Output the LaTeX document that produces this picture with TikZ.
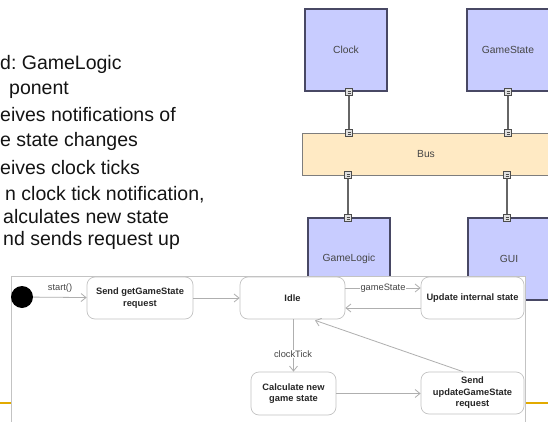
\documentclass[tikz,border=0pt]{standalone}
\usepackage{fontspec}
\setmainfont{Liberation Sans}
\usetikzlibrary{arrows.meta,calc}
\frenchspacing
\definecolor{compfill}{RGB}{200,204,255}
\definecolor{compdraw}{RGB}{72,72,100}
\definecolor{busfill}{RGB}{255,234,196}
\definecolor{busdraw}{RGB}{125,125,125}
\definecolor{gold}{RGB}{226,170,0}
\definecolor{stdraw}{RGB}{195,195,195}
\definecolor{arrcol}{RGB}{175,175,175}
\definecolor{labcol}{RGB}{70,70,70}
\begin{document}
\begin{tikzpicture}[x=1pt,y=-1pt,
  bullet/.style={anchor=base west, inner sep=0pt, font=\fontsize{19.5}{23}\selectfont, text=black!92},
  comp/.style={draw=compdraw, line width=2pt, fill=compfill, minimum width=82.5pt, minimum height=82.5pt, inner sep=0pt, font=\fontsize{10.3}{12}\selectfont, text=labcol},
  busbox/.style={draw=busdraw, line width=0.8pt, fill=busfill, minimum width=248pt, minimum height=42pt, inner sep=0pt, font=\fontsize{10.3}{12}\selectfont, text=labcol},
  port/.style={draw=black!70, fill=black!12, line width=0.6pt, minimum size=6.5pt, inner sep=0pt},
  wire/.style={draw=black!60, line width=1.1pt},
  frame/.style={draw=stdraw, line width=0.6pt, fill=white},
  stbox/.style={draw=stdraw, line width=0.7pt, fill=white, rounded corners=8pt, inner sep=0pt, align=center, font=\fontsize{9.3}{11.5}\selectfont\bfseries, text=black!85},
  trans/.style={draw=arrcol, line width=0.8pt, -{Straight Barb[length=5pt,width=8pt]}},
  tlabel/.style={inner sep=1pt, fill=white, font=\fontsize{9.3}{11}\selectfont, text=labcol}
]
\useasboundingbox (0,0) rectangle (548,422);

% left bullet text
\node[bullet] (l1) at (0,70) {d: GameLogic};
\node[bullet] (l2) at (9,95) {ponent};
\node[bullet] (l3) at (0,122) {eives notifications of};
\node[bullet] (l4) at (0,147) {e state changes};
\node[bullet] (l5) at (0,175) {eives clock ticks};
\node[bullet] (l6) at (5,200) {n clock tick notification,};
\node[bullet] (l7) at (3,223) {alculates new state};
\node[bullet] (l8) at (3,245) {nd sends request up};

% footer line
\draw[gold, line width=1.2pt] (0,403) -- (548,403);

% component diagram
\node[comp] (clock) at (346,50) {Clock};
\node[comp] (gstate) at (508,50) {GameState};
\node[busbox] (bus) at (426,154) {Bus};
\node[comp] (glogic) at (349,259) {GameLogic};
\node[comp] (gui) at (509,259) {GUI};

\node[port] (pc) at (349,92) {};
\node[port] (pbc) at (349,133) {};
\node[port] (pg) at (508,92) {};
\node[port] (pbg) at (508,133) {};
\node[port] (pbl) at (348,175) {};
\node[port] (pl) at (348,218) {};
\node[port] (pbu) at (507,175) {};
\node[port] (pu) at (507,218) {};
\foreach \p in {pc,pbc,pg,pbg,pbl,pl,pbu,pu}{
  \draw[black!70, line width=0.4pt] ($(\p.center)+(-1.5,-1)$) -- ($(\p.center)+(1.5,-1)$);
  \draw[black!70, line width=0.4pt] ($(\p.center)+(-1.5,1)$) -- ($(\p.center)+(1.5,1)$);
}
\draw[wire] (pc) -- (pbc);
\draw[wire] (pg) -- (pbg);
\draw[wire] (pbl) -- (pl);
\draw[wire] (pbu) -- (pu);

% state diagram
\path[frame] (11,276.5) rectangle (525,430);
\node[circle, fill=black, minimum size=22pt, inner sep=0pt] (init) at (22,297) {};
\node[stbox, minimum width=106pt, minimum height=42pt] (send1) at (140,298) {Send getGameState\\request};
\node[stbox, minimum width=105pt, minimum height=42pt] (idle) at (292.5,298) {Idle};
\node[stbox, minimum width=103pt, minimum height=42pt] (update) at (472.5,298) {Update internal state};
\node[stbox, minimum width=85pt, minimum height=43pt] (calc) at (293.5,393.5) {Calculate new\\game state};
\node[stbox, minimum width=103pt, minimum height=42pt] (send2) at (472.5,393) {Send\\updateGameState\\request};

\draw[trans] (init) -- (send1);
\node[tlabel, anchor=south, fill=none] (lstart) at (60,294) {start()};
\draw[trans] (send1) -- (idle);
\draw[trans] ($(idle.east)+(0,-10)$) -- node[tlabel] (lgs) {gameState} ($(update.west)+(0,-10)$);
\draw[trans] ($(update.west)+(0,10)$) -- ($(idle.east)+(0,10)$);
\draw[trans] (idle.south -| calc.north) -- (calc.north);
\node[tlabel] (lct) at (293,354) {clockTick};
\draw[trans] (calc) -- (calc -| send2.west);
\draw[trans] ($(send2.north)+(-9.5,0)$) -- ($(idle.south)+(22.5,1)$);
\end{tikzpicture}
\end{document}
